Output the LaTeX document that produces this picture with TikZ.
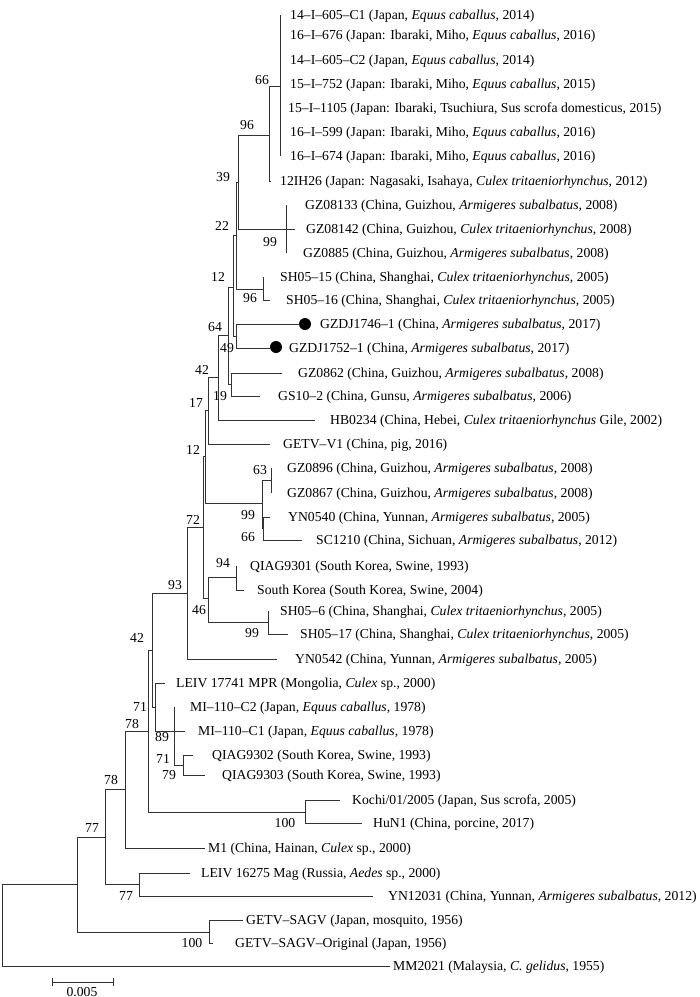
\documentclass[tikz,border=0pt]{standalone}
\usepackage{fontspec}
\usetikzlibrary{calc}
\setmainfont{Liberation Serif}
\newcommand\mkleaf[5]{\coordinate (#1) at (#2,#3); \node[lab] (#1t) at (#4,#3+4.7) {#5};}
\newcommand\mkbs[4]{\node[bs] (#1) at (#2,#3+4.7) {#4};}
\begin{document}
\begin{tikzpicture}[x=1pt,y=-1pt,
  br/.style={draw=black!80, line width=0.8pt},
  lab/.style={anchor=base west, inner sep=0pt, font=\fontsize{13.7}{16}\selectfont},
  bs/.style={anchor=base, inner sep=0pt, font=\fontsize{13.7}{16}\selectfont},
  dotmark/.style={circle, fill=black, inner sep=0pt, minimum size=12pt}]
\useasboundingbox (0,0) rectangle (700,997);
% internal nodes
\coordinate (root) at (2,925);
\coordinate (rc) at (77,884);
\coordinate (nsagv) at (209,932);
\coordinate (n78c) at (105,837);
\coordinate (n77b) at (139,884);
\coordinate (n78b) at (125,789);
\coordinate (n78a) at (148,731);
\coordinate (nkochi) at (305,812);
\coordinate (n42b) at (152,650);
\coordinate (n71) at (155,707);
\coordinate (n89) at (174,731);
\coordinate (n79) at (183,765);
\coordinate (n93) at (187,593);
\coordinate (n72) at (203,527);
\coordinate (n46) at (208,598);
\coordinate (n94) at (236,577);
\coordinate (nsh6) at (268,622);
\coordinate (n12b) at (205,456);
\coordinate (n99b) at (262,503);
\coordinate (n63) at (271,480);
\coordinate (n66b) at (263,528);
\coordinate (n17) at (208,410);
\coordinate (n42) at (218,377);
\coordinate (n64) at (228,335);
\coordinate (n19) at (231,384);
\coordinate (n12) at (233,287);
\coordinate (ngzdj) at (236,336);
\coordinate (n22) at (236,235);
\coordinate (nsh) at (263,289);
\coordinate (n39) at (238,182);
\coordinate (ngz) at (286,229);
\coordinate (n96) at (269,135);
\coordinate (nj7) at (280,86);
% leaves
\mkleaf{j1}{280}{15}{290}{14–I–605–C1 (Japan, \textit{Equus caballus}, 2014)}
\mkleaf{j2}{280}{35}{290}{16–I–676 (Japan: Ibaraki, Miho, \textit{Equus caballus}, 2016)}
\mkleaf{j3}{280}{60}{290}{14–I–605–C2 (Japan, \textit{Equus caballus}, 2014)}
\mkleaf{j4}{280}{84}{290}{15–I–752 (Japan: Ibaraki, Miho, \textit{Equus caballus}, 2015)}
\mkleaf{j5}{280}{108}{288}{15–I–1105 (Japan: Ibaraki, Tsuchiura, Sus scrofa domesticus, 2015)}
\mkleaf{j6}{280}{132}{290}{16–I–599 (Japan: Ibaraki, Miho, \textit{Equus caballus}, 2016)}
\mkleaf{j7}{280}{156}{290}{16–I–674 (Japan: Ibaraki, Miho, \textit{Equus caballus}, 2016)}
\mkleaf{l8}{271}{181}{280}{12IH26 (Japan: Nagasaki, Isahaya, \textit{Culex tritaeniorhynchus}, 2012)}
\mkleaf{l9}{286}{205}{305}{GZ08133 (China, Guizhou, \textit{Armigeres subalbatus}, 2008)}
\mkleaf{l10}{295}{229}{306}{GZ08142 (China, Guizhou, \textit{Culex tritaeniorhynchus}, 2008)}
\mkleaf{l11}{286}{253}{303}{GZ0885 (China, Guizhou, \textit{Armigeres subalbatus}, 2008)}
\mkleaf{l12}{263}{277}{280}{SH05–15 (China, Shanghai, \textit{Culex tritaeniorhynchus}, 2005)}
\mkleaf{l13}{270}{300}{286}{SH05–16 (China, Shanghai, \textit{Culex tritaeniorhynchus}, 2005)}
\mkleaf{l14}{300}{324}{320}{GZDJ1746–1 (China, \textit{Armigeres subalbatus}, 2017)}
\mkleaf{l15}{270}{348}{289}{GZDJ1752–1 (China, \textit{Armigeres subalbatus}, 2017)}
\mkleaf{l16}{282}{373}{298}{GZ0862 (China, Guizhou, \textit{Armigeres subalbatus}, 2008)}
\mkleaf{l17}{260}{396}{278}{GS10–2 (China, Gunsu, \textit{Armigeres subalbatus}, 2006)}
\mkleaf{l18}{315}{420}{330}{HB0234 (China, Hebei, \textit{Culex tritaeniorhynchus} Gile, 2002)}
\mkleaf{l19}{270}{444}{283}{GETV–V1 (China, pig, 2016)}
\mkleaf{l20}{271}{468}{287}{GZ0896 (China, Guizhou, \textit{Armigeres subalbatus}, 2008)}
\mkleaf{l21}{271}{493}{287}{GZ0867 (China, Guizhou, \textit{Armigeres subalbatus}, 2008)}
\mkleaf{l22}{270}{517}{288}{YN0540 (China, Yunnan, \textit{Armigeres subalbatus}, 2005)}
\mkleaf{l23}{302}{540}{316}{SC1210 (China, Sichuan, \textit{Armigeres subalbatus}, 2012)}
\mkleaf{l24}{236}{566}{250}{QIAG9301 (South Korea, Swine, 1993)}
\mkleaf{l25}{244}{590}{257}{South Korea (South Korea, Swine, 2004)}
\mkleaf{l26}{268}{611}{280}{SH05–6 (China, Shanghai, \textit{Culex tritaeniorhynchus}, 2005)}
\mkleaf{l27}{288}{634}{300}{SH05–17 (China, Shanghai, \textit{Culex tritaeniorhynchus}, 2005)}
\mkleaf{l28}{277}{659}{295}{YN0542 (China, Yunnan, \textit{Armigeres subalbatus}, 2005)}
\mkleaf{l29}{165}{683}{176}{LEIV 17741 MPR (Mongolia, \textit{Culex} sp., 2000)}
\mkleaf{l30}{174}{707}{190}{MI–110–C2 (Japan, \textit{Equus caballus}, 1978)}
\mkleaf{l31}{185}{731}{198}{MI–110–C1 (Japan, \textit{Equus caballus}, 1978)}
\mkleaf{l32}{193}{755}{212}{QIAG9302 (South Korea, Swine, 1993)}
\mkleaf{l33}{205}{775}{222}{QIAG9303 (South Korea, Swine, 1993)}
\mkleaf{l34}{340}{800}{352}{Kochi/01/2005 (Japan, Sus scrofa, 2005)}
\mkleaf{l35}{362}{823}{373}{HuN1 (China, porcine, 2017)}
\mkleaf{l36}{205}{848}{208}{M1 (China, Hainan, \textit{Culex} sp., 2000)}
\mkleaf{l37}{190}{873}{201}{LEIV 16275 Mag (Russia, \textit{Aedes} sp., 2000)}
\mkleaf{l38}{373}{896}{388}{YN12031 (China, Yunnan, \textit{Armigeres subalbatus}, 2012)}
\mkleaf{l39}{243}{920}{246}{GETV–SAGV (Japan, mosquito, 1956)}
\mkleaf{l40}{213}{943}{235}{GETV–SAGV–Original (Japan, 1956)}
\mkleaf{l41}{390}{966}{393}{MM2021 (Malaysia, \textit{C. gelidus}, 1955)}
% dots
\node[dotmark] (d14) at (305,324) {};
\node[dotmark] (d15) at (276,347) {};
% branches
\draw[br] (root) |- (rc); \draw[br] (root) |- (l41);
\draw[br] (rc) |- (n78c); \draw[br] (rc) |- (nsagv);
\draw[br] (nsagv) |- (l39); \draw[br] (nsagv) |- (l40);
\draw[br] (n78c) |- (n78b); \draw[br] (n78c) |- (n77b);
\draw[br] (n77b) |- (l37); \draw[br] (n77b) |- (l38);
\draw[br] (n78b) |- (n78a); \draw[br] (n78b) |- (l36);
\draw[br] (n78a) |- (n42b); \draw[br] (n78a) |- (nkochi);
\draw[br] (nkochi) |- (l34); \draw[br] (nkochi) |- (l35);
\draw[br] (n42b) |- (n93); \draw[br] (n42b) |- (n71);
\draw[br] (n71) |- (l29); \draw[br] (n71) |- (n89);
\draw[br] (n89) |- (l30); \draw[br] (n89) |- (l31); \draw[br] (n89) |- (n79);
\draw[br] (n79) |- (l32); \draw[br] (n79) |- (l33);
\draw[br] (n93) |- (n72); \draw[br] (n93) |- (l28);
\draw[br] (n72) |- (n12b); \draw[br] (n72) |- (n46);
\draw[br] (n46) |- (n94); \draw[br] (n46) |- (nsh6);
\draw[br] (n94) |- (l24); \draw[br] (n94) |- (l25);
\draw[br] (nsh6) |- (l26); \draw[br] (nsh6) |- (l27);
\draw[br] (n12b) |- (n17); \draw[br] (n12b) |- (n99b);
\draw[br] (n99b) |- (n63); \draw[br] (n99b) |- (n66b);
\draw[br] (n63) |- (l20); \draw[br] (n63) |- (l21);
\draw[br] (n66b) |- (l22); \draw[br] (n66b) |- (l23);
\draw[br] (n17) |- (n42); \draw[br] (n17) |- (l19);
\draw[br] (n42) |- (n64); \draw[br] (n42) |- (l18);
\draw[br] (n64) |- (n12); \draw[br] (n64) |- (n19);
\draw[br] (n19) |- (l16); \draw[br] (n19) |- (l17);
\draw[br] (n12) |- (n22); \draw[br] (n12) |- (ngzdj);
\draw[br] (ngzdj) |- (l14); \draw[br] (ngzdj) |- (l15);
\draw[br] (n22) |- (n39); \draw[br] (n22) |- (nsh);
\draw[br] (nsh) |- (l12); \draw[br] (nsh) |- (l13);
\draw[br] (n39) |- (n96); \draw[br] (n39) |- (ngz);
\draw[br] (ngz) |- (l9); \draw[br] (ngz) |- (l10); \draw[br] (ngz) |- (l11);
\draw[br] (n96) |- (nj7); \draw[br] (n96) |- (l8);
\foreach \j in {j1,j2,j3,j4,j5,j6,j7} {\draw[br] (nj7) |- (\j);}
% bootstrap values
\mkbs{b1}{262}{80}{66}
\mkbs{b2}{247}{125}{96}
\mkbs{b3}{223}{177}{39}
\mkbs{b4}{222}{226}{22}
\mkbs{b5}{270}{242}{99}
\mkbs{b6}{218}{277}{12}
\mkbs{b7}{250}{298}{96}
\mkbs{b8}{215}{327}{64}
\mkbs{b9}{227}{348}{49}
\mkbs{b10}{202}{370}{42}
\mkbs{b11}{220}{396}{19}
\mkbs{b12}{196}{403}{17}
\mkbs{b13}{193}{450}{12}
\mkbs{b14}{260}{470}{63}
\mkbs{b15}{248}{515}{99}
\mkbs{b16}{248}{537}{66}
\mkbs{b17}{193}{520}{72}
\mkbs{b18}{223}{563}{94}
\mkbs{b19}{175}{585}{93}
\mkbs{b20}{199}{610}{46}
\mkbs{b21}{252}{633}{99}
\mkbs{b22}{137}{638}{42}
\mkbs{b23}{140}{707}{71}
\mkbs{b24}{132}{724}{78}
\mkbs{b25}{162}{737}{89}
\mkbs{b26}{163}{759}{71}
\mkbs{b27}{169}{775}{79}
\mkbs{b28}{111}{780}{78}
\mkbs{b29}{285}{823}{100}
\mkbs{b30}{92}{828}{77}
\mkbs{b31}{126}{896}{77}
\mkbs{b32}{192}{943}{100}
% scale bar
\coordinate (sb1) at (52,982);
\coordinate (sb2) at (113,982);
\draw[br] (sb1) -- (sb2);
\draw[br] ($(sb1)+(0,-4)$) -- ($(sb1)+(0,4)$);
\draw[br] ($(sb2)+(0,-4)$) -- ($(sb2)+(0,4)$);
\node[bs] (sbt) at (82,996) {0.005};
\end{tikzpicture}
\end{document}
